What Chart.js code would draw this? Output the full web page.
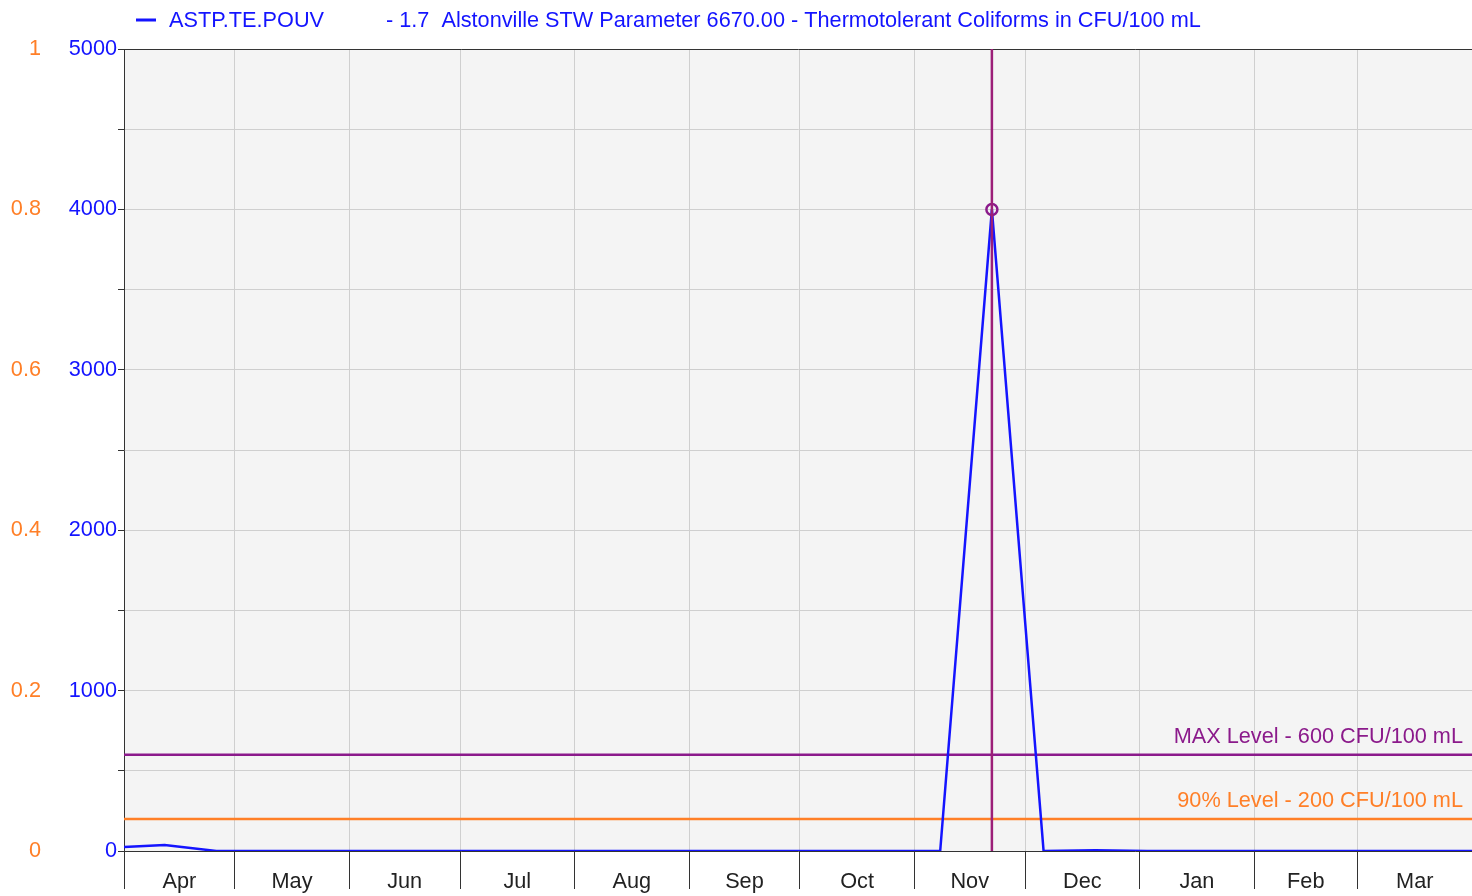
<!DOCTYPE html>
<html>
<head>
<meta charset="utf-8">
<script src="https://cdn.jsdelivr.net/npm/chart.js@4.4.1/dist/chart.umd.min.js"></script>
<style>
  html, body { margin: 0; padding: 0; background: #fff; }
  #wrap { position: relative; width: 1472px; height: 896px; }
</style>
</head>
<body>
<div id="wrap"><canvas id="chart" width="1472" height="896"></canvas></div>
<script>
/* ---- data ---- */
const MONTHS     = ['Apr','May','Jun','Jul','Aug','Sep','Oct','Nov','Dec','Jan','Feb','Mar'];
const MONTH_DAYS = [30, 31, 30, 31, 31, 30, 31, 30, 31, 31, 28, 31];

// sample day (days since 1 Apr) and result in CFU/100 mL
const SAMPLE_DAYS = [0, 11, 25, 53, 81, 109, 137, 165, 193, 221, 235, 249, 263, 277, 305, 333, 365];
const THERMO_CFU  = [25, 38, 0, 0, 0, 0, 0, 0, 0, 0, 4000, 0, 5, 0, 0, 0, 0];

const MAX_LEVEL = 600;
const P90_LEVEL = 200;
const MAX_LABEL = 'MAX Level - 600 CFU/100 mL';
const P90_LABEL = '90% Level - 200 CFU/100 mL';

const SERIES_NAME = 'ASTP.TE.POUV';
const SERIES_DESC = '- 1.7  Alstonville STW Parameter 6670.00 - Thermotolerant Coliforms in CFU/100 mL';

/* ---- colours ---- */
const BLUE   = '#1414ff';
const ORANGE = '#ff7f27';
const PURPLE = '#8b1a8b';
const MARKER = '#9c1f78';
const FONT   = "21.7px 'Liberation Sans', Arial, sans-serif";

/* ---- derived month positions ---- */
const BOUNDS = [0];
MONTH_DAYS.forEach(d => BOUNDS.push(BOUNDS[BOUNDS.length - 1] + d));
const MIDS = MONTHS.map((m, i) => (BOUNDS[i] + BOUNDS[i + 1]) / 2);
const YEAR_END = BOUNDS[BOUNDS.length - 1];

const peakIdx = THERMO_CFU.indexOf(Math.max(...THERMO_CFU));
const peakDay = SAMPLE_DAYS[peakIdx];

const isBound = v => BOUNDS.includes(v);

Chart.defaults.font.family = "'Liberation Sans', Arial, sans-serif";
Chart.defaults.font.size = 21.7;

// grey plot area
const plotBg = {
  id: 'plotBg',
  beforeDraw(chart) {
    const { ctx, chartArea: a } = chart;
    ctx.save();
    ctx.fillStyle = '#f4f4f4';
    ctx.fillRect(a.left, a.top, a.right - a.left, a.bottom - a.top);
    ctx.restore();
  }
};

// labels above the level lines
const levelLabels = {
  id: 'levelLabels',
  afterDatasetsDraw(chart) {
    const { ctx, chartArea: a, scales } = chart;
    ctx.save();
    ctx.font = FONT;
    ctx.textAlign = 'right';
    ctx.textBaseline = 'middle';
    ctx.fillStyle = PURPLE;
    ctx.fillText(MAX_LABEL, a.right - 9, scales.y.getPixelForValue(MAX_LEVEL) - 18);
    ctx.fillStyle = ORANGE;
    ctx.fillText(P90_LABEL, a.right - 9, scales.y.getPixelForValue(P90_LEVEL) - 18);
    ctx.restore();
  }
};

// legend line at the top
const header = {
  id: 'header',
  afterDraw(chart) {
    const ctx = chart.ctx;
    ctx.save();
    ctx.strokeStyle = BLUE;
    ctx.lineWidth = 3;
    ctx.beginPath();
    ctx.moveTo(136, 20);
    ctx.lineTo(156, 20);
    ctx.stroke();
    ctx.font = FONT;
    ctx.fillStyle = BLUE;
    ctx.textBaseline = 'middle';
    ctx.fillText(SERIES_NAME, 169, 21);
    ctx.fillText(SERIES_DESC, 386, 21);
    ctx.restore();
  }
};

new Chart(document.getElementById('chart').getContext('2d'), {
  type: 'line',
  data: {
    datasets: [
      {
        label: 'marker',
        data: [{ x: peakDay, y: 0 }, { x: peakDay, y: 5000 }],
        borderColor: MARKER,
        borderWidth: 2.5,
        pointRadius: 0
      },
      {
        label: SERIES_NAME,
        data: SAMPLE_DAYS.map((d, i) => ({ x: d, y: THERMO_CFU[i] })),
        borderColor: BLUE,
        borderWidth: 2.5,
        tension: 0,
        pointRadius: ctx => ctx.dataIndex === peakIdx ? 5.5 : 0,
        pointBorderColor: PURPLE,
        pointBackgroundColor: 'rgba(0,0,0,0)',
        pointBorderWidth: 2.5
      },
      {
        label: 'max',
        data: [{ x: 0, y: MAX_LEVEL }, { x: YEAR_END, y: MAX_LEVEL }],
        borderColor: PURPLE,
        borderWidth: 2.5,
        pointRadius: 0
      },
      {
        label: 'p90',
        data: [{ x: 0, y: P90_LEVEL }, { x: YEAR_END, y: P90_LEVEL }],
        borderColor: ORANGE,
        borderWidth: 2.5,
        pointRadius: 0
      }
    ]
  },
  options: {
    responsive: false,
    animation: false,
    events: [],
    layout: { padding: { top: 49, right: 0, bottom: 0, left: 0 } },
    plugins: {
      legend: { display: false },
      tooltip: { enabled: false }
    },
    scales: {
      x: {
        type: 'linear',
        min: 0,
        max: YEAR_END,
        afterBuildTicks: s => {
          s.ticks = [...BOUNDS, ...MIDS].sort((a, b) => a - b).map(v => ({ value: v }));
        },
        afterFit: s => { s.height = 45; },
        grid: {
          color: c => isBound(c.tick && c.tick.value) ? '#cfcfcf' : 'rgba(0,0,0,0)',
          tickColor: c => isBound(c.tick && c.tick.value) ? '#333' : 'rgba(0,0,0,0)',
          tickLength: 38
        },
        border: { color: '#333', width: 1 },
        ticks: {
          autoSkip: false,
          maxRotation: 0,
          minRotation: 0,
          padding: -20,
          color: '#222',
          callback: v => {
            const i = MIDS.indexOf(v);
            return i >= 0 ? MONTHS[i] : '';
          }
        }
      },
      y: {
        position: 'left',
        min: 0,
        max: 5000,
        afterFit: s => { s.width = 74; },
        grid: {
          color: c => c.tick && c.tick.value === 5000 ? '#333' : '#cfcfcf',
          tickColor: '#333',
          tickLength: 6
        },
        border: { color: '#333', width: 1 },
        ticks: {
          stepSize: 500,
          padding: 1,
          color: BLUE,
          callback: v => v % 1000 === 0 ? v : ''
        }
      },
      yLevel: {
        position: 'left',
        weight: 1,
        min: 0,
        max: 1,
        afterFit: s => { s.width = 50; },
        grid: { display: false, drawTicks: false },
        border: { display: false },
        ticks: {
          stepSize: 0.2,
          padding: 9,
          color: ORANGE,
          callback: v => String(+v.toFixed(1))
        }
      }
    }
  },
  plugins: [plotBg, levelLabels, header]
});
</script>
</body>
</html>
